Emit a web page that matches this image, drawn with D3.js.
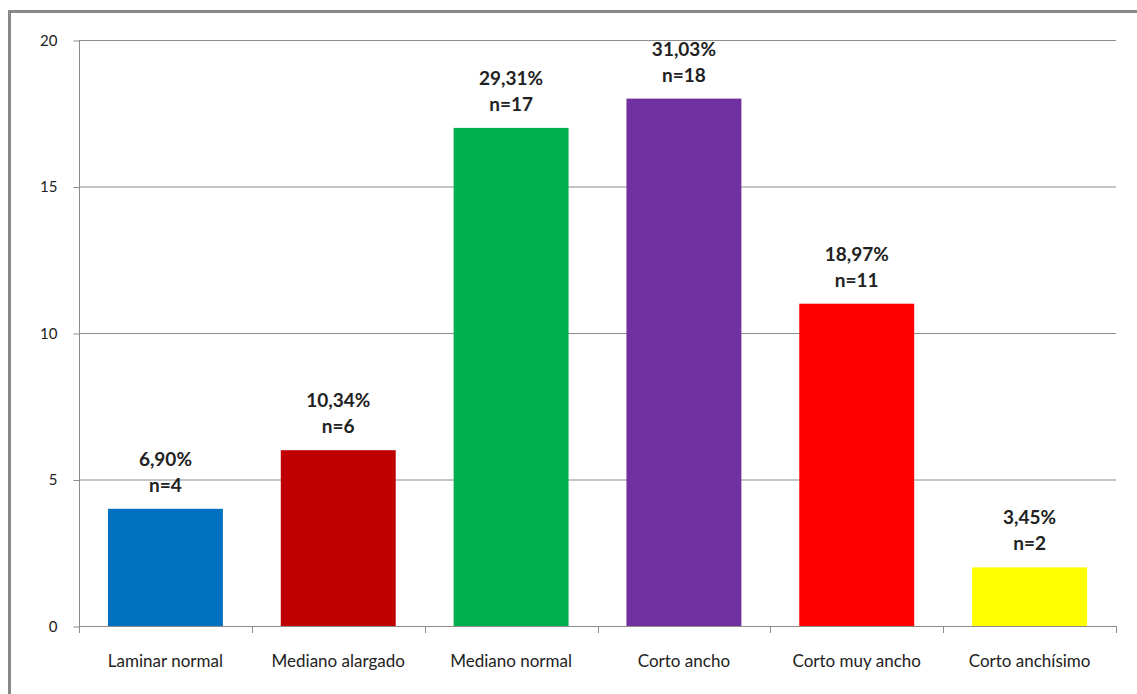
<!DOCTYPE html>
<html><head><meta charset="utf-8">
<script src="https://cdn.jsdelivr.net/npm/d3@7"></script>
<style>
html,body{margin:0;padding:0;background:#fff;}
svg{display:block;font-family:Lato,"Open Sans",sans-serif;}
</style></head>
<body>
<svg id="c" width="1137" height="694"></svg>
<script>
const categories = ["Laminar normal","Mediano alargado","Mediano normal","Corto ancho","Corto muy ancho","Corto anchísimo"];
const counts = [4, 6, 17, 18, 11, 2];
const percents = ["6,90%","10,34%","29,31%","31,03%","18,97%","3,45%"];
const colors = ["#0070C0","#C00000","#00B050","#7030A0","#FF0000","#FFFF00"];
const yTicks = [0,5,10,15,20];

const svg = d3.select("#c");
const m = {left:79, right:1116, top:40, bottom:626};

// outer frame
svg.append("path").attr("d","M9.5,694 V11.5 H1137").attr("fill","none").attr("stroke","#888").attr("stroke-width",3);

const x = d3.scaleBand().domain(categories).range([m.left,m.right]).paddingInner(0.335).paddingOuter(0.1675);
const y = d3.scaleLinear().domain([0,20]).range([m.bottom,m.top]);

// gridlines
svg.append("g").selectAll("line").data(yTicks.filter(d=>d>0)).join("line")
  .attr("x1",m.left).attr("x2",m.right)
  .attr("y1",d=>y(d)+0.5).attr("y2",d=>y(d)+0.5)
  .attr("stroke","#8c8c8c").attr("stroke-width",1);

// y axis
const yAxis = d3.axisLeft(y).tickValues(yTicks).tickSize(6).tickPadding(16).tickFormat(d3.format("d"));
const gy = svg.append("g").attr("transform",`translate(${m.left+0.5},0.5)`).call(yAxis);
gy.select(".domain").attr("stroke","#8c8c8c").attr("d",`M0,${m.top}V${m.bottom}`);
gy.selectAll(".tick line").attr("stroke","#8c8c8c");
gy.selectAll(".tick text").attr("font-size",15).attr("fill","#222").attr("font-family","Lato, sans-serif");

// bars
svg.append("g").selectAll("rect").data(counts).join("rect")
  .attr("x",(d,i)=>x(categories[i])).attr("width",x.bandwidth())
  .attr("y",d=>y(d)).attr("height",d=>y(0)-y(d))
  .attr("fill",(d,i)=>colors[i]);

// x axis
const step = x.step();
svg.append("line").attr("x1",m.left).attr("x2",m.right+0.5).attr("y1",m.bottom+0.5).attr("y2",m.bottom+0.5).attr("stroke","#8c8c8c");
const bounds = d3.range(categories.length+1).map(i=>m.left + i*step);
svg.append("g").selectAll("line").data(bounds).join("line")
  .attr("x1",d=>Math.round(d)+0.5).attr("x2",d=>Math.round(d)+0.5)
  .attr("y1",m.bottom).attr("y2",m.bottom+7).attr("stroke","#8c8c8c");
svg.append("g").selectAll("text").data(categories).join("text")
  .attr("x",d=>x(d)+x.bandwidth()/2).attr("y",667)
  .attr("text-anchor","middle").attr("font-size",17).attr("fill","#222").text(d=>d);

// data labels
const lg = svg.append("g").attr("font-size",19).attr("font-weight","bold").attr("fill","#222").attr("text-anchor","middle");
counts.forEach((d,i)=>{
  const cx = x(categories[i])+x.bandwidth()/2;
  lg.append("text").attr("x",cx).attr("y",y(d)-43).text(percents[i]);
  lg.append("text").attr("x",cx).attr("y",y(d)-17).text("n="+d);
});
</script>
</body></html>
